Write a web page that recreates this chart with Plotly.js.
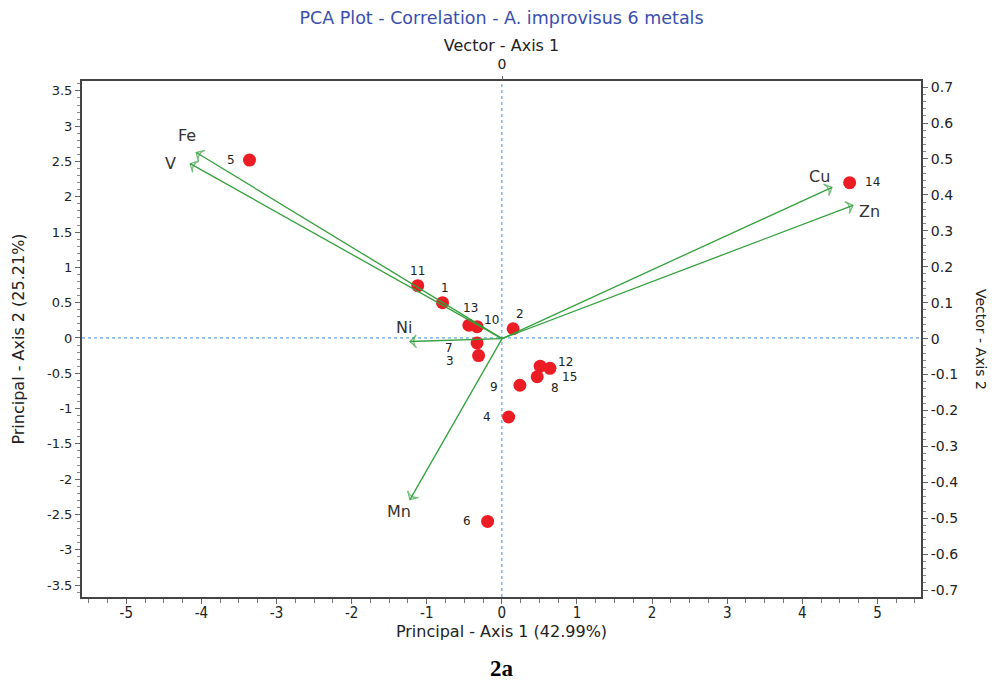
<!DOCTYPE html>
<html>
<head>
<meta charset="utf-8">
<script src="https://cdn.plot.ly/plotly-3.0.1.min.js"></script>
<style>html,body{margin:0;padding:0;background:#fff;}#chart{width:992px;height:684px;}</style>
</head>
<body>
<div id="chart"></div>
<script>
// ---- data ----
const samples = ['1','2','3','4','5','6','7','8','9','10','11','12','13','14','15'];
const pc1 = [-0.79, 0.15, -0.31, 0.09, -3.36, -0.19, -0.33, 0.47, 0.24, -0.33, -1.12, 0.51, -0.44, 4.63, 0.64];
const pc2 = [0.50, 0.13, -0.25, -1.12, 2.52, -2.60, -0.07, -0.55, -0.67, 0.16, 0.74, -0.40, 0.18, 2.20, -0.43];

const variables = ['Fe', 'V', 'Cu', 'Zn', 'Ni', 'Mn'];
const vec1 = [-0.800, -0.816, 0.863, 0.918, -0.241, -0.241];
const vec2 = [0.518, 0.487, 0.421, 0.371, -0.008, -0.448];

const xTickVals = [-5, -4, -3, -2, -1, 0, 1, 2, 3, 4, 5];
const xTickText = ['-5', '-4', '-3', '-2', '-1', '0', '1', '2', '3', '4', '5'];
const yTickVals = [3.5, 3, 2.5, 2, 1.5, 1, 0.5, 0, -0.5, -1, -1.5, -2, -2.5, -3, -3.5];
const yTickText = ['3.5', '3', '2.5', '2', '1.5', '1', '0.5', '0', '-0.5', '-1', '-1.5', '-2', '-2.5', '-3', '-3.5'];
const y2TickVals = [0.7, 0.6, 0.5, 0.4, 0.3, 0.2, 0.1, 0, -0.1, -0.2, -0.3, -0.4, -0.5, -0.6, -0.7];
const y2TickText = ['0.7', '0.6', '0.5', '0.4', '0.3', '0.2', '0.1', '0', '-0.1', '-0.2', '-0.3', '-0.4', '-0.5', '-0.6', '-0.7'];

// ---- styling (label pixel offsets) ----
const sampleShiftX = [2, 7, -29, -22, -19, -21, -28, 18, -26, 14, 0, 25, 2, 23, 20];
const sampleShiftY = [15, 15, -5, 0, 0, 0, -5, -11, -2, 7, 15, 4, 17, 1, -9];
const varShiftX = [-9, -20, -12, 17, -6, -11];
const varShiftY = [17, 0, 11, -6, 14, -12];

const GREEN = '#34a03c';
const FONT = 'DejaVu Sans, Verdana, sans-serif';
const NARROW = 'Liberation Sans Narrow, Arial Narrow, DejaVu Sans Condensed, sans-serif';

const traces = [];
traces.push({
  type: 'scatter', mode: 'markers', x: pc1, y: pc2, xaxis: 'x', yaxis: 'y',
  marker: {size: 13, color: '#ec1c24'}, hoverinfo: 'skip', showlegend: false
});
variables.forEach((v, i) => {
  traces.push({
    type: 'scatter', mode: 'lines+markers', x: [0, vec1[i]], y: [0, vec2[i]],
    xaxis: 'x2', yaxis: 'y2',
    line: {color: GREEN, width: 1.3},
    marker: {symbol: ['circle', 'arrow-wide-open'], size: [0, 9], angleref: 'previous',
             color: GREEN, line: {color: GREEN, width: 1.3}},
    hoverinfo: 'skip', showlegend: false
  });
});

const annotations = [];
samples.forEach((s, i) => {
  annotations.push({xref: 'x', yref: 'y', x: pc1[i], y: pc2[i], text: s, showarrow: false,
    xshift: sampleShiftX[i], yshift: sampleShiftY[i], font: {family: FONT, size: 12, color: '#222'}});
});
variables.forEach((v, i) => {
  annotations.push({xref: 'x2', yref: 'y2', x: vec1[i], y: vec2[i], text: v, showarrow: false,
    xshift: varShiftX[i], yshift: varShiftY[i], font: {family: FONT, size: 16, color: '#333'}});
});
annotations.push({xref: 'paper', yref: 'paper', x: 1, y: 0.5, xanchor: 'center', yanchor: 'middle',
  xshift: 60, text: 'Vector - Axis 2', textangle: 90, showarrow: false,
  font: {family: FONT, size: 14, color: '#222'}});
annotations.push({xref: 'paper', yref: 'paper', x: 0.5, y: 0, xanchor: 'center', yanchor: 'middle',
  yshift: -71, text: '<b>2a</b>', showarrow: false,
  font: {family: 'Liberation Serif, Times New Roman, serif', size: 23, color: '#000'}});

const axisBase = {showgrid: false, zeroline: false, ticks: 'outside', ticklen: 5, tickcolor: '#666',
  tickfont: {family: FONT, size: 13, color: '#222'}, tickmode: 'array'};

const layout = {
  width: 992, height: 684,
  margin: {l: 82, r: 71, t: 81, b: 87},
  paper_bgcolor: '#fff', plot_bgcolor: '#fff',
  title: {text: 'PCA Plot - Correlation - A. improvisus 6 metals', x: 0.5, xref: 'paper',
    y: 1 - 18 / 684, yref: 'container', yanchor: 'middle',
    font: {family: FONT, size: 17.5, color: '#3a4fae'}},
  xaxis: Object.assign({}, axisBase, {
    range: [-5.59, 5.58], tickvals: xTickVals, ticktext: xTickText,
    tickfont: {family: NARROW, size: 15, color: '#222'}, ticklabelstandoff: -4,
    minor: {tickmode: 'linear', tick0: 0, dtick: 0.25, ticks: 'outside', ticklen: 4, tickcolor: '#777'},
    showline: true, linewidth: 2, linecolor: '#444', mirror: true,
    title: {text: 'Principal - Axis 1 (42.99%)', font: {family: FONT, size: 16, color: '#222'}, standoff: 2}
  }),
  yaxis: Object.assign({}, axisBase, {
    range: [-3.67, 3.64], tickvals: yTickVals, ticktext: yTickText,
    minor: {tickmode: 'linear', tick0: 0, dtick: 0.1, ticks: 'outside', ticklen: 3, tickcolor: '#888'},
    showline: true, linewidth: 2, linecolor: '#444', mirror: true,
    title: {text: 'Principal - Axis 2 (25.21%)', font: {family: FONT, size: 16, color: '#222'}, standoff: 18}
  }),
  xaxis2: Object.assign({}, axisBase, {
    overlaying: 'x', side: 'top', anchor: 'y', range: [-1.099, 1.096],
    tickvals: [0], ticktext: ['0'], ticklen: 4, showline: false, ticklabelstandoff: 1,
    tickfont: {family: FONT, size: 14, color: '#222'},
    title: {text: 'Vector - Axis 1', font: {family: FONT, size: 16, color: '#222'}, standoff: 0}
  }),
  yaxis2: Object.assign({}, axisBase, {
    overlaying: 'y', side: 'right', anchor: 'x', range: [-0.719, 0.717],
    tickvals: y2TickVals, ticktext: y2TickText, tickfont: {family: FONT, size: 14, color: '#222'},
    minor: {tickmode: 'linear', tick0: 0, dtick: 0.02, ticks: 'outside', ticklen: 3, tickcolor: '#888'},
    showline: true, linewidth: 2, linecolor: '#444'
  }),
  shapes: [
    {type: 'line', xref: 'x', yref: 'paper', x0: 0, x1: 0, y0: 0, y1: 1, layer: 'below',
     line: {color: '#3d8fdc', width: 1, dash: 'dot'}},
    {type: 'line', xref: 'paper', yref: 'y', x0: 0, x1: 1, y0: 0, y1: 0, layer: 'below',
     line: {color: '#3d8fdc', width: 1, dash: 'dot'}}
  ],
  annotations: annotations,
  showlegend: false
};

Plotly.newPlot('chart', traces, layout, {displayModeBar: false, staticPlot: true});
</script>
</body>
</html>
